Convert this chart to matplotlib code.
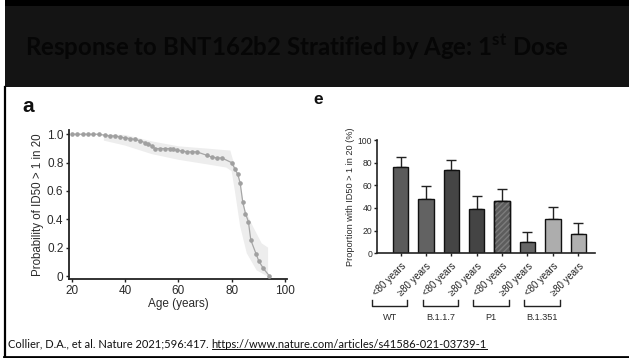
import matplotlib
matplotlib.use("Agg")
import matplotlib.pyplot as plt
import matplotlib.transforms as mtransforms
from matplotlib.patches import Rectangle
from matplotlib.lines import Line2D
import numpy as np

# ---------------- data ----------------
title_text = r"Response to BNT162b2 Stratified by Age: 1$^{\mathbf{st}}$ Dose"
footer_ref = "Collier, D.A., et al. Nature 2021;596:417. "
footer_url = "https://www.nature.com/articles/s41586-021-03739-1"

# panel a: probability curve
ages = [20, 22, 24, 26, 28, 30, 32.4, 34.3, 36.2, 38.0, 39.9, 41.8, 43.7, 45.6,
        47.4, 48.7, 50.0, 51.2, 53.1, 55.0, 56.8, 58.1, 59.4, 61.2, 63.1, 65.0,
        66.9, 70.6, 72.5, 74.4, 76.3, 80.0, 81.3, 82.3, 83.2, 84.2, 85.2, 86.3,
        87.2, 89.2, 90.2, 91.9, 94.2]
prob = [1.0, 1.0, 1.0, 1.0, 1.0, 1.0, 0.993, 0.988, 0.988, 0.981, 0.974, 0.97,
        0.963, 0.955, 0.941, 0.932, 0.918, 0.899, 0.899, 0.899, 0.899, 0.894,
        0.887, 0.883, 0.876, 0.876, 0.876, 0.852, 0.84, 0.833, 0.833, 0.80,
        0.753, 0.718, 0.657, 0.519, 0.441, 0.383, 0.254, 0.155, 0.106, 0.054, 0.0]
band_upper_age = [32, 40, 50, 60, 70, 79.5, 80.5, 82.8, 83.8, 85.0, 88.0, 91.3, 93.7, 93.7]
band_upper_p = [1.0, 0.995, 0.95, 0.915, 0.90, 0.885, 0.82, 0.70, 0.58, 0.47, 0.35, 0.23, 0.20, 0.02]
band_lower_age = [32, 40, 50, 60, 70, 78, 80, 81.3, 83.2, 85.7, 89.4, 93.2]
band_lower_p = [0.955, 0.92, 0.86, 0.82, 0.79, 0.765, 0.74, 0.59, 0.35, 0.16, 0.04, 0.0]
a_xticks = [20, 40, 60, 80, 100]
a_yticks = [0, 0.2, 0.4, 0.6, 0.8, 1.0]
a_yticklabels = ["0", "0.2", "0.4", "0.6", "0.8", "1.0"]

# panel e: bar chart
variants = ["WT", "B.1.1.7", "P1", "B.1.351"]
bar_labels = ["<80 years", "\u226580 years", "<80 years", "\u226580 years",
              "<80 years", "\u226580 years", "<80 years", "\u226580 years"]
bar_values = [76.5, 48.2, 73.5, 39.1, 46.5, 10.3, 30.3, 17.1]
bar_upper = [85.3, 59.1, 82.4, 50.6, 57.1, 18.8, 41.2, 26.8]
bar_colors = ["#5b5b5b", "#626262", "#454545", "#444444", "#5d5d5d", "#666666",
              "#adadad", "#b0b0b0"]
bar_hatched = [False, False, False, False, True, False, False, False]
e_yticks = [0, 20, 40, 60, 80, 100]

W, H = 629, 358
fig = plt.figure(figsize=(W / 100, H / 100), dpi=100)
fig.patch.set_facecolor("white")

def fx(px):
    return px / W

def fy(py):
    return (H - py) / H

# ---------------- slide frame ----------------
fig.add_artist(Rectangle((fx(5), fy(87)), 1 - fx(5), fy(0) - fy(87),
                         transform=fig.transFigure, facecolor="#141414",
                         edgecolor="none", zorder=0))
fig.add_artist(Rectangle((fx(5), fy(6)), 1 - fx(5), fy(0) - fy(6),
                         transform=fig.transFigure, facecolor="#000000",
                         edgecolor="none", zorder=0))
fig.add_artist(Line2D([fx(5), fx(5)], [fy(87), fy(357)], transform=fig.transFigure,
                      color="black", lw=1.6, zorder=5))
fig.add_artist(Line2D([fx(4), 1], [fy(356.5), fy(356.5)], transform=fig.transFigure,
                      color="black", lw=2.0, zorder=5))

plt.rcParams["mathtext.fontset"] = "custom"
plt.rcParams["mathtext.bf"] = "Lato:bold"
plt.rcParams["mathtext.rm"] = "Lato:bold"

fig.text(fx(297), fy(47), title_text, ha="center", va="center", fontsize=17.3,
         family="Lato", fontweight="bold", color="#060606")

# ---------------- panel a ----------------
txt_col = "#2a2a2a"
axA = fig.add_axes([fx(69), fy(279), fx(287) - fx(69), fy(130) - fy(279)])
poly_x = band_upper_age + band_lower_age[::-1]
poly_y = band_upper_p + band_lower_p[::-1]
axA.fill(poly_x, poly_y, color="#ededed", lw=0, zorder=1)
axA.plot(ages, prob, color="#a6a6a6", lw=0.9, marker="o", ms=2.3,
         mfc="#a0a0a0", mec="#a0a0a0", zorder=3)
axA.set_xlim(18.9, 100.8)
axA.set_ylim(-0.021, 1.03)
axA.set_xticks(a_xticks)
axA.set_yticks(a_yticks)
axA.set_yticklabels(a_yticklabels)
for s in ["top", "right"]:
    axA.spines[s].set_visible(False)
for s in ["left", "bottom"]:
    axA.spines[s].set_linewidth(1.3)
    axA.spines[s].set_color("#222222")
axA.tick_params(direction="out", length=2.5, width=1.0, colors="#222222",
                labelsize=8.5, labelcolor=txt_col, pad=1.5)
axA.set_xlabel("Age (years)", fontsize=8.5, color=txt_col, labelpad=1,
               family="Liberation Sans")
axA.set_ylabel("Probability of ID50 > 1 in 20", fontsize=8.3, color=txt_col,
               labelpad=2, family="Liberation Sans")
for lab in axA.get_xticklabels() + axA.get_yticklabels():
    lab.set_family("Liberation Sans")
axA.patch.set_alpha(0)

fig.text(fx(22), fy(106), "a", fontsize=15, fontweight="bold",
         family="Liberation Sans", ha="left", va="center", color="#111111")
fig.text(fx(313), fy(100), "e", fontsize=12.5, fontweight="bold",
         family="Liberation Sans", ha="left", va="center", color="#111111")

# ---------------- panel e ----------------
axE = fig.add_axes([fx(377), fy(253.3), fx(595) - fx(377), fy(140) - fy(253.3)])
xpos = np.arange(len(bar_values))
bars = axE.bar(xpos, bar_values, width=0.61, color=bar_colors,
               edgecolor="#111111", linewidth=1.0, zorder=2)
for i, hatched in enumerate(bar_hatched):
    if hatched:
        axE.bar(xpos[i], bar_values[i], width=0.61, facecolor="none",
                edgecolor="#7c7c7c", hatch="//////", linewidth=0, zorder=2.5)
        axE.bar(xpos[i], bar_values[i], width=0.61, facecolor="none",
                edgecolor="#111111", linewidth=1.0, zorder=2.6)
err_up = np.array(bar_upper) - np.array(bar_values)
axE.errorbar(xpos, bar_values, yerr=[np.zeros_like(err_up), err_up], fmt="none",
             ecolor="#222222", elinewidth=1.0, capsize=3.6, capthick=1.0, zorder=1)
axE.set_xlim(-0.93, 7.66)
axE.set_ylim(0, 100)
axE.set_yticks(e_yticks)
axE.set_xticks(xpos)
axE.set_xticklabels(bar_labels, rotation=45, ha="right", va="top",
                    rotation_mode="anchor", fontsize=6.9, color=txt_col,
                    family="Liberation Sans")
for lab in axE.get_yticklabels():
    lab.set_family("Liberation Sans")
for s in ["top", "right"]:
    axE.spines[s].set_visible(False)
for s in ["left", "bottom"]:
    axE.spines[s].set_linewidth(1.2)
    axE.spines[s].set_color("#222222")
axE.tick_params(axis="y", direction="out", length=2.5, width=1.0, colors="#222222",
                labelsize=6.2, labelcolor=txt_col, pad=1.0)
axE.tick_params(axis="x", direction="out", length=2.5, width=1.0, colors="#222222",
                pad=3.0)
axE.set_ylabel("Proportion with ID50 > 1 in 20 (%)", fontsize=6.6, color=txt_col,
               labelpad=2, family="Liberation Sans")
axE.patch.set_alpha(0)

# group brackets (data x, pixel-based y)
blend = mtransforms.blended_transform_factory(axE.transData, fig.transFigure)
for g, name in enumerate(variants):
    x0 = 2 * g - 1.13
    x1 = 2 * g + 0.27
    yb = fy(305.5)
    yt = fy(300)
    axE.add_line(Line2D([x0, x0, x1, x1], [yt, yb, yb, yt], transform=blend,
                        color="#222222", lw=1.0, clip_on=False))
    axE.text((x0 + x1) / 2, fy(318), name, transform=blend, ha="center",
             va="center", fontsize=6.6, color=txt_col, family="Liberation Sans")

# ---------------- footer ----------------
t1 = fig.text(fx(8), fy(344), footer_ref, ha="left", va="center", fontsize=8.0,
              family="Lato", color="#111111")
fig.canvas.draw()
r = fig.canvas.get_renderer()
bb = t1.get_window_extent(r)
t2 = fig.text(bb.x1 / W, fy(344), footer_url, ha="left", va="center",
              fontsize=8.0, family="Lato", color="#111111")
fig.canvas.draw()
bb2 = t2.get_window_extent(r)
fig.add_artist(Line2D([bb2.x0 / W, bb2.x1 / W], [(bb2.y0 + 0.5) / H] * 2,
                      transform=fig.transFigure, color="#111111", lw=0.7))

fig.savefig("out.png", dpi=100)
